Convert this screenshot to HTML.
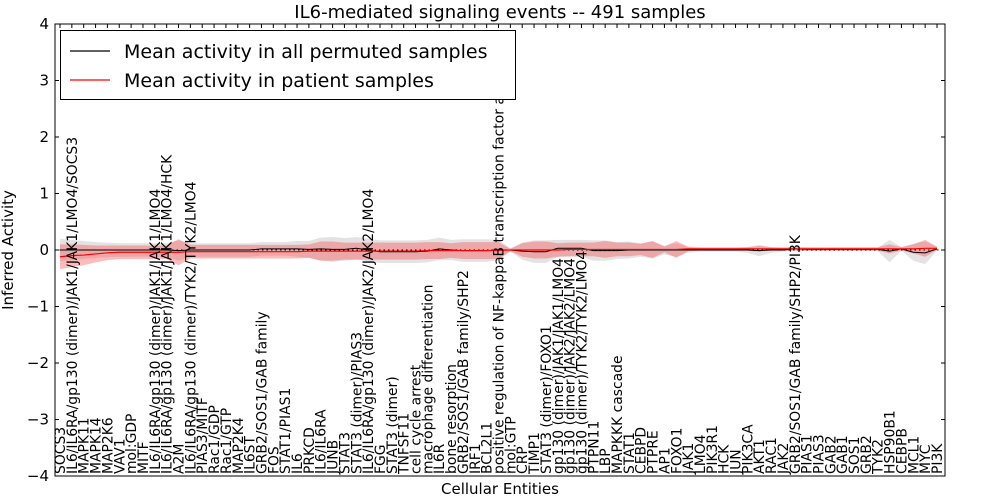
<!DOCTYPE html>
<html><head><meta charset="utf-8"><style>
html,body{margin:0;padding:0;background:#fff;}
svg{display:block;font-family:"DejaVu Sans","Liberation Sans",sans-serif;}
</style></head><body>
<svg id="chart" width="1000" height="500" viewBox="0 0 1000 500">
<text x="500" y="18" text-anchor="middle" font-size="18">IL6-mediated signaling events -- 491 samples</text>
<text transform="translate(13,250) rotate(-90)" text-anchor="middle" font-size="15">Inferred Activity</text>
<text x="500" y="494" text-anchor="middle" font-size="15">Cellular Entities</text>
<g id="plot"></g>
</svg>
<script>
const categories=["SOCS3","IL6/IL6RA/gp130 (dimer)/JAK1/JAK1/LMO4/SOCS3","MAPK11","MAPK14","MAP2K6","VAV1","mol:GDP","MITF","IL6/IL6RA/gp130 (dimer)/JAK1/JAK1/LMO4","IL6/IL6RA/gp130 (dimer)/JAK1/JAK1/LMO4/HCK","A2M","IL6/IL6RA/gp130 (dimer)/TYK2/TYK2/LMO4","PIAS3/MITF","Rac1/GDP","Rac1/GTP","MAP2K4","IL6ST","GRB2/SOS1/GAB family","FOS","STAT1/PIAS1","IL6","PRKCD","IL6/IL6RA","JUNB","STAT3","STAT3 (dimer)/PIAS3","IL6/IL6RA/gp130 (dimer)/JAK2/JAK2/LMO4","FGG","STAT3 (dimer)","TNFSF11","cell cycle arrest","macrophage differentiation","IL6R","bone resorption","GRB2/SOS1/GAB family/SHP2","IRF1","BCL2L1","positive regulation of NF-kappaB transcription factor activity","mol:GTP","CRP","TIMP1","STAT3 (dimer)/FOXO1","gp130 (dimer)/JAK1/JAK1/LMO4","gp130 (dimer)/JAK2/JAK2/LMO4","gp130 (dimer)/TYK2/TYK2/LMO4","PTPN11","LBP","MAPKKK cascade","STAT1","CEBPD","PTPRE","AP1","FOXO1","JAK1","LMO4","PIK3R1","HCK","JUN","PIK3CA","AKT1","RAC1","JAK2","GRB2/SOS1/GAB family/SHP2/PI3K","PIAS1","PIAS3","GAB2","GAB1","SOS1","GRB2","TYK2","HSP90B1","CEBPB","MCL1","MYC","PI3K"];
const patientMean=[-0.12,-0.1,-0.09,-0.07,-0.05,-0.04,-0.04,-0.04,-0.04,-0.04,-0.04,-0.03,-0.03,-0.03,-0.03,-0.03,-0.03,-0.03,-0.03,-0.03,-0.03,-0.02,-0.02,-0.02,-0.02,-0.02,-0.02,-0.02,-0.02,-0.02,-0.02,-0.01,-0.01,-0.01,-0.01,-0.01,-0.01,-0.01,0,0,0,0,0,0.01,0.01,0.01,0.01,0.01,0.01,0.01,0.01,0.01,0.01,0.02,0.02,0.02,0.02,0.02,0.02,0.02,0.02,0.02,0.02,0.02,0.02,0.02,0.02,0.02,0.02,0.02,0.02,0.02,0.02,0.03,0.03];
const patientSpread=[0.22,0.2,0.18,0.15,0.13,0.12,0.12,0.12,0.12,0.12,0.23,0.12,0.12,0.12,0.12,0.12,0.12,0.12,0.12,0.12,0.12,0.12,0.17,0.17,0.15,0.15,0.15,0.15,0.15,0.15,0.15,0.15,0.15,0.13,0.15,0.15,0.15,0.15,0.02,0.12,0.15,0.15,0.12,0.12,0.12,0.12,0.15,0.12,0.12,0.1,0.15,0.05,0.15,0.04,0.03,0.03,0.03,0.03,0.03,0.05,0.03,0.03,0.03,0.03,0.03,0.03,0.03,0.03,0.03,0.03,0.08,0.03,0.08,0.15,0.03];
const permutedMean=[0,0,0,0,0,0,0,0,0,0,-0.01,0,0,0,0,0,0,0.02,0.02,0.02,0.02,0.01,0.02,0.01,0.01,0.03,0,-0.03,-0.03,-0.03,-0.03,-0.02,0.02,0,-0.01,-0.01,-0.01,0,0,-0.02,-0.03,-0.03,0.03,0.03,0.03,-0.01,-0.01,-0.01,0,0,0,0,0,0,0,0,0,0,0,-0.01,0,0,0.02,0.01,0.01,0.01,0.01,0.01,0.01,0.01,-0.02,0.02,-0.04,-0.05,0.02];
const permutedSpread=[0.2,0.18,0.16,0.14,0.13,0.12,0.12,0.12,0.12,0.12,0.18,0.12,0.12,0.12,0.12,0.12,0.12,0.12,0.12,0.12,0.14,0.15,0.2,0.22,0.2,0.2,0.2,0.2,0.2,0.2,0.2,0.2,0.2,0.18,0.2,0.2,0.2,0.18,0.03,0.15,0.2,0.2,0.15,0.15,0.15,0.18,0.18,0.15,0.15,0.12,0.15,0.08,0.12,0.05,0.03,0.03,0.03,0.03,0.05,0.1,0.05,0.03,0.03,0.03,0.03,0.03,0.03,0.03,0.03,0.03,0.2,0.03,0.15,0.2,0.03];
const yTicks=[4,3,2,1,0,-1,-2,-3,-4];

const NS="http://www.w3.org/2000/svg";
const L=55,R=945,T=24,B=476;
const x0=60,x1=937;
function xs(i){return x0+i*(x1-x0)/(categories.length-1);}
function ys(v){return T+(4-v)*(B-T)/8;}
const g=document.getElementById('plot');
function mk(tag,attrs,parent){const e=document.createElementNS(NS,tag);for(const k in attrs)e.setAttribute(k,attrs[k]);(parent||g).appendChild(e);return e;}
function band(mean,spread,fill,op){
  let up=mean.map((m,i)=>xs(i)+','+ys(m+spread[i]));
  let dn=mean.map((m,i)=>xs(i)+','+ys(m-spread[i])).reverse();
  return mk('polygon',{points:up.concat(dn).join(' '),fill:fill,'fill-opacity':op,stroke:'none'});
}
function line(mean,color,w){return mk('polyline',{points:mean.map((m,i)=>xs(i)+','+ys(m)).join(' '),fill:'none',stroke:color,'stroke-width':w});}

const gb=band(permutedMean,permutedSpread,'#b0b0b0',0.35);


const rb=band(patientMean,patientSpread,'#ff2a2a',0.32);


const zl=mk('line',{x1:L,x2:R,y1:ys(0),y2:ys(0),stroke:'#000','stroke-width':1,'stroke-dasharray':'1.5,3'});


const bl=line(permutedMean,'#000',1);


const rl=line(patientMean,'#ff0000',1.2);



yTicks.forEach(v=>{
  const y=ys(v);
  mk('line',{x1:L,x2:L+4,y1:y,y2:y,stroke:'#000'});
  mk('line',{x1:R-4,x2:R,y1:y,y2:y,stroke:'#000'});
  const t=mk('text',{x:L-6,y:y+5,'text-anchor':'end','font-size':15});
  t.textContent=(v<0?'\u2212':'')+Math.abs(v);
  
  
});
categories.forEach((c,i)=>{
  const x=xs(i);
  mk('line',{x1:x,x2:x,y1:T,y2:T+4,stroke:'#000'});
  const t=mk('text',{transform:'translate('+(x+5)+','+(B-2)+') rotate(-90)','font-size':13.9});
  t.textContent=c;
  
  
});
const fr=mk('rect',{x:L,y:T,width:R-L,height:B-T,fill:'none',stroke:'#000','stroke-width':1});



const lg=mk('g',{});


mk('rect',{x:60.5,y:30.5,width:455,height:69,fill:'#fff',stroke:'#000'},lg);
mk('line',{x1:70,x2:110,y1:51,y2:51,stroke:'#000','stroke-width':1.2},lg);
mk('line',{x1:70,x2:110,y1:80,y2:80,stroke:'#ff0000','stroke-width':1.2},lg);
const t1=mk('text',{x:124,y:58,'font-size':19},lg);t1.textContent='Mean activity in all permuted samples';


const t2=mk('text',{x:124,y:87,'font-size':19},lg);t2.textContent='Mean activity in patient samples';


</script>
</body></html>
